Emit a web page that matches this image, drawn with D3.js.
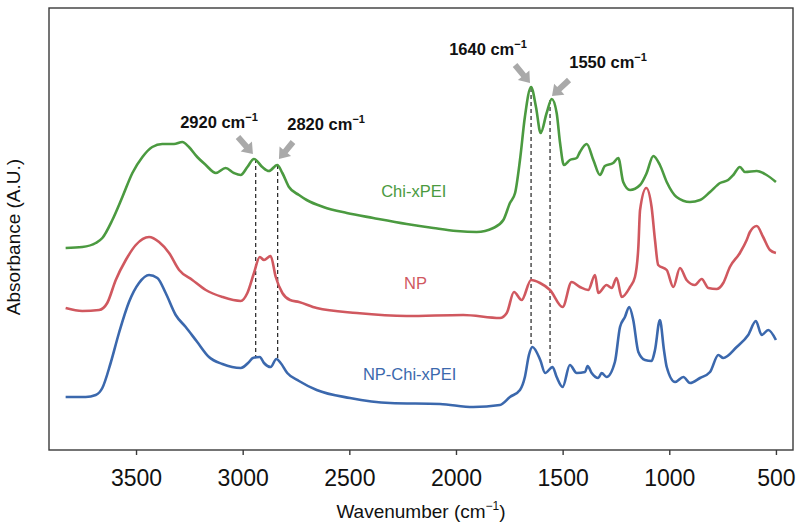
<!DOCTYPE html>
<html>
<head>
<meta charset="utf-8">
<script src="https://cdn.jsdelivr.net/npm/d3@7.9.0/dist/d3.min.js"></script>
<style>
  body { margin: 0; background: #fff; }
  #chart { width: 800px; height: 528px; }
  text { font-family: 'Liberation Sans', Arial, sans-serif; }
</style>
</head>
<body>
<div id="chart"></div>
<script>
// FTIR spectra: [wavenumber (cm-1), absorbance (A.U., offset)]
const chiXPEI = [
  [3830, 2.02], [3752, 2.03], [3689, 2.07], [3658, 2.12], [3611, 2.30], [3564, 2.53],
  [3517, 2.77], [3470, 2.93], [3424, 3.03], [3377, 3.06], [3322, 3.06], [3283, 3.08],
  [3252, 3.03], [3213, 2.93], [3173, 2.85], [3126, 2.77], [3080, 2.82], [3041, 2.77],
  [3009, 2.75], [2978, 2.83], [2947, 2.91], [2908, 2.83], [2877, 2.79], [2838, 2.85],
  [2814, 2.77], [2783, 2.63], [2736, 2.55], [2700, 2.50], [2622, 2.43], [2512, 2.37],
  [2388, 2.32], [2231, 2.26], [2106, 2.22], [1997, 2.19], [1903, 2.18], [1825, 2.22],
  [1778, 2.30], [1747, 2.47], [1723, 2.57], [1700, 2.90], [1677, 3.33], [1648, 3.63],
  [1625, 3.43], [1603, 3.17], [1575, 3.37], [1551, 3.51], [1528, 3.37], [1512, 3.07],
  [1494, 2.85], [1466, 2.90], [1434, 2.92], [1419, 2.98], [1387, 3.06], [1356, 2.90],
  [1325, 2.75], [1302, 2.84], [1263, 2.87], [1239, 2.92], [1216, 2.68], [1184, 2.60],
  [1137, 2.65], [1106, 2.77], [1075, 2.94], [1044, 2.85], [1012, 2.68], [966, 2.53],
  [903, 2.48], [856, 2.50], [809, 2.58], [762, 2.67], [724, 2.70], [700, 2.75],
  [669, 2.83], [645, 2.78], [590, 2.79], [544, 2.75], [500, 2.68]
];

const np = [
  [3830, 1.42], [3752, 1.39], [3673, 1.40], [3635, 1.47], [3595, 1.70], [3548, 1.90],
  [3501, 2.05], [3439, 2.13], [3392, 2.08], [3345, 1.97], [3298, 1.80], [3236, 1.70],
  [3173, 1.60], [3095, 1.53], [3009, 1.49], [2978, 1.57], [2947, 1.77], [2920, 1.93],
  [2900, 1.90], [2869, 1.94], [2845, 1.73], [2814, 1.57], [2778, 1.50], [2736, 1.48],
  [2653, 1.42], [2465, 1.37], [2231, 1.34], [1966, 1.35], [1794, 1.32], [1762, 1.37],
  [1728, 1.58], [1692, 1.50], [1648, 1.70], [1606, 1.67], [1559, 1.60], [1500, 1.43],
  [1458, 1.68], [1419, 1.63], [1380, 1.60], [1348, 1.75], [1333, 1.57], [1294, 1.65],
  [1270, 1.62], [1247, 1.72], [1223, 1.53], [1184, 1.63], [1161, 1.73], [1145, 2.03],
  [1137, 2.40], [1108, 2.62], [1083, 2.43], [1067, 2.10], [1052, 1.85], [1012, 1.80],
  [981, 1.63], [950, 1.82], [919, 1.70], [880, 1.65], [848, 1.71], [817, 1.62],
  [778, 1.61], [747, 1.67], [716, 1.83], [669, 1.97], [637, 2.10], [622, 2.18],
  [590, 2.24], [560, 2.13], [528, 2.00], [500, 1.97]
];

const npChiXPEI = [
  [3830, 0.53], [3736, 0.53], [3689, 0.55], [3658, 0.62], [3619, 0.87], [3580, 1.17],
  [3533, 1.48], [3486, 1.67], [3439, 1.75], [3400, 1.72], [3361, 1.57], [3314, 1.35],
  [3267, 1.23], [3213, 1.08], [3158, 0.93], [3095, 0.86], [3009, 0.82], [2970, 0.88],
  [2952, 0.92], [2920, 0.93], [2900, 0.87], [2869, 0.83], [2842, 0.91], [2822, 0.87],
  [2791, 0.77], [2736, 0.69], [2653, 0.60], [2497, 0.52], [2309, 0.47],
  [2075, 0.46], [1919, 0.43], [1794, 0.45], [1747, 0.53], [1700, 0.60], [1677, 0.73],
  [1658, 0.95], [1642, 1.03], [1605, 0.90], [1582, 0.77], [1547, 0.83], [1528, 0.73],
  [1500, 0.63], [1466, 0.85], [1434, 0.77], [1395, 0.78], [1383, 0.84], [1364, 0.77],
  [1333, 0.72], [1317, 0.77], [1294, 0.73], [1255, 0.88], [1231, 1.23], [1208, 1.33],
  [1188, 1.43], [1169, 1.30], [1145, 0.98], [1114, 0.90], [1083, 0.89], [1067, 1.00],
  [1044, 1.30], [1025, 1.00], [1012, 0.83], [973, 0.68], [934, 0.73], [903, 0.67],
  [856, 0.72], [809, 0.78], [770, 0.95], [747, 0.92], [684, 1.03], [630, 1.15],
  [594, 1.29], [567, 1.15], [536, 1.20], [500, 1.10]
];

const seriesNames = ['Chi-xPEI', 'NP', 'NP-Chi-xPEI'];
const seriesColors = ['#4b9a40', '#d0585f', '#3b68ad'];
// label anchor [wavenumber, absorbance]
const seriesLabelPos = [[2198, 2.53], [2190, 1.61], [2217, 0.70]];

const xTicks = [3500, 3000, 2500, 2000, 1500, 1000, 500];

// dashed guides: wavenumber, top absorbance, bottom absorbance
const guideWn = [2939, 2836, 1648, 1559];
const guideTop = [2.91, 2.85, 3.62, 3.50];
const guideBottom = [0.93, 0.91, 1.04, 0.85];

// peak annotations
const peakLabels = ['2920', '2820', '1640', '1550'];
const peakLabelPos = [[3111, 3.22], [2609, 3.20], [1850, 3.95], [1287, 3.82]];
const arrowTail = [[3022, 3.13], [2764, 3.08], [1723, 3.85], [1470, 3.70]];
const arrowTip = [[2952, 2.96], [2830, 2.91], [1653, 3.67], [1550, 3.54]];

const width = 800;
const height = 528;
const margin = { top: 8, right: 7, bottom: 78, left: 49 };
const innerW = width - margin.left - margin.right;
const innerH = height - margin.top - margin.bottom;

const svg = d3.select('#chart').append('svg')
  .attr('width', width)
  .attr('height', height);

const g = svg.append('g')
  .attr('transform', `translate(${margin.left},${margin.top})`);

const x = d3.scaleLinear().domain([3908, 420]).range([0, innerW]);
const y = d3.scaleLinear().domain([0, 4.42]).range([innerH, 0]);

// frame
g.append('rect')
  .attr('width', innerW)
  .attr('height', innerH)
  .attr('fill', 'none')
  .attr('stroke', '#3a3a3a')
  .attr('stroke-width', 1.4);

// x axis
const xAxis = g.append('g')
  .attr('transform', `translate(0,${innerH})`)
  .call(d3.axisBottom(x).tickValues(xTicks).tickSize(5).tickPadding(15).tickFormat(d3.format('d')));
xAxis.select('.domain').remove();
xAxis.selectAll('.tick line').attr('stroke', '#3a3a3a').attr('stroke-width', 1.4);
xAxis.selectAll('text')
  .attr('fill', '#111')
  .style('font-size', '23px')
  .style('font-family', "'Liberation Sans', Arial, sans-serif");

// axis titles
const xTitle = svg.append('text')
  .attr('x', margin.left + innerW / 2)
  .attr('y', 518)
  .attr('text-anchor', 'middle')
  .attr('fill', '#111')
  .style('font-size', '19px');
xTitle.append('tspan').text('Wavenumber (cm');
xTitle.append('tspan').text('−1').style('font-size', '12px').attr('dy', -8);
xTitle.append('tspan').text(')').attr('dy', 8);

svg.append('text')
  .attr('transform', `translate(20,237) rotate(-90)`)
  .attr('text-anchor', 'middle')
  .attr('fill', '#111')
  .style('font-size', '19px')
  .text('Absorbance (A.U.)');

// dashed guide lines
g.selectAll('line.guide')
  .data(guideWn)
  .enter()
  .append('line')
  .attr('class', 'guide')
  .attr('x1', (d) => x(d))
  .attr('x2', (d) => x(d))
  .attr('y1', (d, i) => y(guideTop[i]))
  .attr('y2', (d, i) => y(guideBottom[i]))
  .attr('stroke', '#222')
  .attr('stroke-width', 1.2)
  .attr('stroke-dasharray', '4,3');

// spectra
const line = d3.line()
  .x((d) => x(d[0]))
  .y((d) => y(d[1]))
  .curve(d3.curveMonotoneX);

const spectra = [chiXPEI, np, npChiXPEI];
g.selectAll('path.spectrum')
  .data(spectra)
  .enter()
  .append('path')
  .attr('class', 'spectrum')
  .attr('d', line)
  .attr('fill', 'none')
  .attr('stroke', (d, i) => seriesColors[i])
  .attr('stroke-width', 2.6)
  .attr('stroke-linejoin', 'round');

// series labels
g.selectAll('text.series')
  .data(seriesNames)
  .enter()
  .append('text')
  .attr('class', 'series')
  .attr('x', (d, i) => x(seriesLabelPos[i][0]))
  .attr('y', (d, i) => y(seriesLabelPos[i][1]))
  .attr('text-anchor', 'middle')
  .attr('fill', (d, i) => seriesColors[i])
  .style('font-size', '16.5px')
  .text((d) => d);

// grey block arrows
function arrowPath(x1, y1, x2, y2) {
  const dx = x2 - x1;
  const dy = y2 - y1;
  const len = Math.sqrt(dx * dx + dy * dy);
  const ux = dx / len;
  const uy = dy / len;
  const px = -uy;
  const py = ux;
  const headLen = 10;
  const shaft = 3;
  const head = 7.5;
  const bx = x2 - ux * headLen;
  const by = y2 - uy * headLen;
  const pts = [
    [x1 + px * shaft, y1 + py * shaft],
    [bx + px * shaft, by + py * shaft],
    [bx + px * head, by + py * head],
    [x2, y2],
    [bx - px * head, by - py * head],
    [bx - px * shaft, by - py * shaft],
    [x1 - px * shaft, y1 - py * shaft],
  ];
  return 'M' + pts.map((p) => p.join(',')).join('L') + 'Z';
}

g.selectAll('path.arrow')
  .data(arrowTip)
  .enter()
  .append('path')
  .attr('class', 'arrow')
  .attr('d', (d, i) => arrowPath(x(arrowTail[i][0]), y(arrowTail[i][1]), x(d[0]), y(d[1])))
  .attr('fill', '#a9a9a9');

// peak labels
const peakText = g.selectAll('text.peak')
  .data(peakLabels)
  .enter()
  .append('text')
  .attr('class', 'peak')
  .attr('x', (d, i) => x(peakLabelPos[i][0]))
  .attr('y', (d, i) => y(peakLabelPos[i][1]))
  .attr('text-anchor', 'middle')
  .attr('fill', '#111')
  .style('font-size', '16.5px')
  .style('font-weight', 'bold');
peakText.append('tspan').text((d) => d + ' cm');
peakText.append('tspan').text('−1').style('font-size', '11px').attr('dy', -7);
</script>
</body>
</html>
